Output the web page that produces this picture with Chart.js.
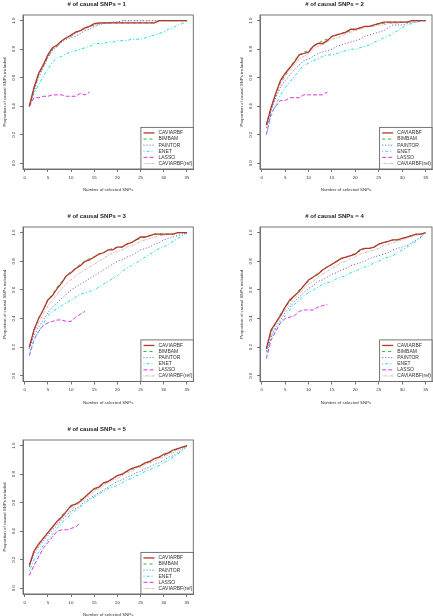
<!DOCTYPE html>
<html><head><meta charset="utf-8">
<script src="https://cdn.jsdelivr.net/npm/chart.js@4.4.0/dist/chart.umd.min.js"></script>
<style>
html,body{margin:0;padding:0;background:#fff;overflow:hidden;width:433px;height:616px;}
.panel{position:absolute;}
.panel canvas{display:block;}
</style></head><body>
<div class="panel" id="w1"><canvas id="c1"></canvas></div>
<div class="panel" id="w2"><canvas id="c2"></canvas></div>
<div class="panel" id="w3"><canvas id="c3"></canvas></div>
<div class="panel" id="w4"><canvas id="c4"></canvas></div>
<div class="panel" id="w5"><canvas id="c5"></canvas></div>
<script>
// ---------- data ----------
const xValues = [1,2,3,4,5,6,7,8,9,10,11,12,13,14,15,16,17,18,19,20,21,22,23,24,25,26,27,28,29,30,31,32,33,34,35];
const xTickValues = [0,5,10,15,20,25,30,35];
const xTickLabels = ['0','5','10','15','20','25','30','35'];
const yTickValues = [0,0.2,0.4,0.6,0.8,1.0];
const yTickLabels = ['0.0','0.2','0.4','0.6','0.8','1.0'];
const methodNames = ['CAVIARBF','BIMBAM','PAINTOR','ENET','LASSO','CAVIARBF(ref)'];
const panelTitles = ['# of causal SNPs = 1','# of causal SNPs = 2','# of causal SNPs = 3','# of causal SNPs = 4','# of causal SNPs = 5'];
const xAxisTitle = 'Number of selected SNPs';
const yAxisTitle = 'Proportion of causal SNPs included';

// panel 1
const caviarbf1 = [0.40,0.53,0.63,0.69,0.76,0.81,0.83,0.86,0.88,0.90,0.92,0.93,0.95,0.96,0.98,0.985,0.985,0.985,0.985,0.985,0.985,0.985,0.985,0.985,0.985,0.985,0.985,0.985,1.0,1.0,1.0,1.0,1.0,1.0,1.0];
const bimbam1   = [0.40,0.52,0.62,0.68,0.75,0.80,0.82,0.86,0.88,0.89,0.92,0.93,0.95,0.96,0.97,0.98,0.985,0.985,0.985,0.985,0.985,0.985,0.985,0.985,0.985,0.985,0.985,0.985,1.0,1.0,1.0,1.0,1.0,1.0,1.0];
const paintor1  = [0.40,0.50,0.60,0.67,0.74,0.79,0.82,0.85,0.87,0.88,0.89,0.91,0.93,0.94,0.96,0.97,0.98,0.98,0.99,0.99,1.0,1.0,1.0,1.0,1.0,1.0,1.0,1.0,1.0,1.0,1.0,1.0,1.0,1.0,1.0];
const enet1     = [0.40,0.49,0.55,0.61,0.66,0.71,0.74,0.75,0.77,0.78,0.79,0.80,0.81,0.82,0.84,0.84,0.84,0.85,0.85,0.86,0.86,0.86,0.87,0.87,0.87,0.88,0.89,0.90,0.91,0.92,0.94,0.95,0.97,0.98,1.0];
const lasso1    = [0.40,0.46,0.46,0.47,0.47,0.48,0.48,0.48,0.47,0.47,0.47,0.49,0.48,0.50];
const ref1      = [0.40,0.52,0.62,0.68,0.75,0.80,0.83,0.86,0.88,0.89,0.91,0.93,0.94,0.96,0.97,0.98,0.98,0.99,0.99,0.99,1.0,1.0,1.0,1.0,1.0,1.0,1.0,1.0,1.0,1.0,1.0,1.0,1.0,1.0,1.0];

// panel 2
const caviarbf2 = [0.27,0.39,0.49,0.58,0.63,0.67,0.71,0.76,0.77,0.78,0.82,0.84,0.84,0.86,0.89,0.90,0.91,0.92,0.94,0.94,0.95,0.96,0.96,0.97,0.98,0.99,0.99,0.99,0.99,0.99,0.99,1.0,1.0,1.0,1.0];
const bimbam2   = [0.27,0.39,0.49,0.57,0.62,0.67,0.72,0.76,0.78,0.79,0.82,0.84,0.86,0.87,0.89,0.90,0.91,0.92,0.93,0.94,0.95,0.96,0.96,0.97,0.98,0.98,0.99,0.99,0.99,0.99,0.99,1.0,1.0,1.0,1.0];
const paintor2  = [0.25,0.37,0.46,0.53,0.58,0.62,0.66,0.69,0.72,0.73,0.75,0.77,0.78,0.79,0.80,0.82,0.83,0.84,0.85,0.86,0.87,0.89,0.90,0.91,0.92,0.93,0.95,0.97,0.97,0.97,0.98,0.99,0.99,1.0,1.0];
const enet2     = [0.20,0.33,0.41,0.48,0.53,0.57,0.61,0.65,0.69,0.70,0.72,0.73,0.75,0.76,0.76,0.77,0.78,0.79,0.80,0.80,0.81,0.82,0.83,0.85,0.86,0.88,0.89,0.91,0.93,0.95,0.97,0.98,0.99,1.0,1.0];
const lasso2    = [0.20,0.35,0.40,0.44,0.44,0.46,0.46,0.46,0.48,0.48,0.48,0.48,0.48,0.50];
const ref2      = [0.25,0.37,0.47,0.55,0.61,0.65,0.69,0.73,0.75,0.77,0.80,0.82,0.83,0.85,0.87,0.88,0.89,0.91,0.92,0.93,0.94,0.95,0.96,0.96,0.97,0.97,0.98,0.98,0.98,0.99,0.99,0.99,1.0,1.0,1.0];

// panel 3
const caviarbf3 = [0.20,0.32,0.40,0.46,0.53,0.56,0.61,0.65,0.70,0.72,0.75,0.77,0.80,0.81,0.83,0.85,0.86,0.88,0.88,0.90,0.90,0.92,0.93,0.95,0.97,0.97,0.98,0.99,0.99,0.99,0.99,0.99,1.0,1.0,1.0];
const bimbam3   = [0.20,0.32,0.40,0.46,0.53,0.57,0.62,0.66,0.70,0.73,0.75,0.78,0.80,0.82,0.83,0.85,0.86,0.88,0.89,0.90,0.90,0.92,0.93,0.95,0.96,0.97,0.98,0.99,0.99,0.99,0.99,0.99,1.0,1.0,1.0];
const paintor3  = [0.19,0.28,0.34,0.39,0.44,0.48,0.51,0.54,0.57,0.60,0.62,0.64,0.66,0.68,0.70,0.72,0.74,0.76,0.78,0.80,0.81,0.83,0.84,0.86,0.88,0.89,0.90,0.92,0.93,0.95,0.96,0.97,0.98,0.99,1.0];
const enet3     = [0.15,0.25,0.31,0.36,0.42,0.45,0.47,0.49,0.51,0.53,0.55,0.57,0.58,0.59,0.60,0.62,0.64,0.66,0.68,0.70,0.73,0.75,0.77,0.79,0.81,0.83,0.85,0.87,0.89,0.90,0.92,0.94,0.96,0.98,1.0];
const lasso3    = [0.14,0.25,0.31,0.35,0.37,0.38,0.39,0.39,0.38,0.38,0.41,0.43,0.45];
const ref3      = [0.19,0.30,0.37,0.43,0.49,0.53,0.57,0.61,0.64,0.67,0.70,0.72,0.74,0.76,0.78,0.80,0.82,0.84,0.86,0.87,0.88,0.90,0.91,0.92,0.94,0.95,0.96,0.97,0.98,0.98,0.99,0.99,1.0,1.0,1.0];

// panel 4
const caviarbf4 = [0.19,0.32,0.37,0.42,0.48,0.53,0.56,0.59,0.63,0.67,0.69,0.71,0.74,0.76,0.78,0.80,0.82,0.83,0.84,0.85,0.88,0.89,0.89,0.90,0.92,0.93,0.94,0.95,0.95,0.96,0.97,0.98,0.99,0.99,1.0];
const bimbam4   = [0.19,0.31,0.37,0.43,0.48,0.52,0.56,0.60,0.63,0.66,0.69,0.72,0.74,0.76,0.78,0.80,0.82,0.83,0.84,0.86,0.87,0.89,0.89,0.90,0.92,0.93,0.94,0.95,0.95,0.96,0.97,0.98,0.99,0.99,1.0];
const paintor4  = [0.17,0.28,0.34,0.39,0.44,0.48,0.52,0.55,0.58,0.61,0.63,0.66,0.67,0.69,0.71,0.72,0.74,0.75,0.77,0.78,0.79,0.80,0.82,0.83,0.84,0.85,0.86,0.88,0.89,0.90,0.91,0.93,0.95,0.97,1.0];
const enet4     = [0.14,0.27,0.33,0.37,0.42,0.46,0.50,0.53,0.56,0.58,0.60,0.62,0.64,0.65,0.66,0.68,0.69,0.70,0.72,0.73,0.75,0.76,0.77,0.79,0.80,0.82,0.83,0.84,0.86,0.88,0.90,0.92,0.94,0.97,1.0];
const lasso4    = [0.12,0.25,0.31,0.37,0.40,0.41,0.42,0.45,0.46,0.46,0.46,0.48,0.49,0.50];
const ref4      = [0.17,0.30,0.36,0.41,0.46,0.50,0.54,0.57,0.61,0.64,0.66,0.69,0.71,0.73,0.75,0.77,0.79,0.80,0.82,0.83,0.85,0.86,0.87,0.88,0.89,0.91,0.92,0.93,0.94,0.95,0.96,0.97,0.98,0.99,1.0];

// panel 5
const caviarbf5 = [0.16,0.26,0.31,0.35,0.39,0.43,0.47,0.50,0.54,0.58,0.59,0.61,0.64,0.67,0.70,0.71,0.74,0.75,0.77,0.79,0.80,0.82,0.84,0.85,0.86,0.88,0.89,0.91,0.92,0.94,0.95,0.97,0.98,0.99,1.0];
const bimbam5   = [0.16,0.26,0.31,0.35,0.39,0.43,0.47,0.51,0.54,0.57,0.59,0.62,0.64,0.67,0.69,0.71,0.73,0.75,0.77,0.79,0.80,0.82,0.83,0.85,0.86,0.88,0.89,0.91,0.92,0.93,0.95,0.96,0.98,0.99,1.0];
const paintor5  = [0.15,0.24,0.29,0.33,0.37,0.41,0.44,0.48,0.51,0.54,0.56,0.58,0.61,0.63,0.65,0.67,0.69,0.71,0.73,0.75,0.76,0.78,0.79,0.81,0.82,0.84,0.85,0.87,0.88,0.90,0.92,0.93,0.95,0.97,1.0];
const enet5     = [0.12,0.20,0.25,0.30,0.34,0.38,0.42,0.46,0.49,0.52,0.55,0.57,0.60,0.62,0.64,0.66,0.68,0.70,0.71,0.72,0.74,0.76,0.77,0.79,0.80,0.82,0.83,0.85,0.86,0.88,0.90,0.92,0.94,0.97,1.0];
const lasso5    = [0.09,0.16,0.22,0.28,0.32,0.36,0.40,0.41,0.41,0.42,0.43,0.46];
const ref5      = [0.15,0.25,0.30,0.34,0.38,0.42,0.45,0.49,0.52,0.55,0.58,0.60,0.63,0.65,0.68,0.70,0.72,0.74,0.76,0.77,0.79,0.81,0.82,0.84,0.85,0.87,0.88,0.89,0.91,0.92,0.94,0.95,0.97,0.98,1.0];

const panelSeries = [
  [caviarbf1,bimbam1,paintor1,enet1,lasso1,ref1],
  [caviarbf2,bimbam2,paintor2,enet2,lasso2,ref2],
  [caviarbf3,bimbam3,paintor3,enet3,lasso3,ref3],
  [caviarbf4,bimbam4,paintor4,enet4,lasso4,ref4],
  [caviarbf5,bimbam5,paintor5,enet5,lasso5,ref5]
];

// ---------- styles ----------
const FONT = '"Liberation Sans", Arial, Helvetica, sans-serif';
const seriesStyles = [
  {color:'#B8342B', dash:[], width:1.3},
  {color:'#22BB22', dash:[3,3], width:1},
  {color:'#5555DD', dash:[1,2], width:1},
  {color:'#22DDDD', dash:[1,2,3,2], width:1},
  {color:'#DD33DD', dash:[4,2], width:1},
  {color:'#D8B8B8', dash:[1,1,3,1], width:1}
];
// plot rectangles in page pixels: left, top, right, bottom
const panelBoxes = [
  {L:23, T:15, R:193.3, B:169},
  {L:260, T:15, R:432, B:169},
  {L:23, T:227, R:193.3, B:381.5},
  {L:260, T:227, R:432, B:381.5},
  {L:23, T:439.5, R:193.3, B:593.5}
];
const LEFT_M = 23, TOP_M = 15, BOTTOM_M = 26, RIGHT_M = 23;
const AXIS_COL = '#666', TEXT_COL = '#333';

const framePlugin = {
  id: 'rframe',
  afterDatasetsDraw(chart) {
    const {ctx, chartArea: a} = chart;
    ctx.save();
    ctx.strokeStyle = AXIS_COL; ctx.lineWidth = 0.9; ctx.setLineDash([]);
    ctx.strokeRect(a.left, a.top, a.right - a.left, a.bottom - a.top);
    // legend (bottom right, boxed, like R's legend("bottomright"))
    ctx.font = '5px ' + FONT;
    const ds = chart.data.datasets;
    const tw = Math.max(...ds.map(d => ctx.measureText(d.label).width));
    const rowH = 6.1, padL = 2.6, sampleLen = 11, gap = 4, padR = 1, padV = 2.5;
    const w = padL + sampleLen + gap + tw + padR;
    const h = padV * 2 + rowH * ds.length;
    const x0 = a.right - w, y0 = a.bottom - h;
    ctx.fillStyle = '#fff';
    ctx.fillRect(x0, y0, w, h);
    ctx.strokeRect(x0, y0, w, h);
    ds.forEach((d, i) => {
      const cy = y0 + padV + rowH * (i + 0.5);
      ctx.beginPath();
      ctx.setLineDash(d.borderDash || []);
      ctx.strokeStyle = d.borderColor; ctx.lineWidth = d.borderWidth;
      ctx.moveTo(x0 + padL, cy); ctx.lineTo(x0 + padL + sampleLen, cy); ctx.stroke();
      ctx.setLineDash([]);
      ctx.fillStyle = TEXT_COL; ctx.textBaseline = 'middle'; ctx.textAlign = 'left';
      ctx.fillText(d.label, x0 + padL + sampleLen + gap, cy);
    });
    ctx.restore();
  }
};

function makePanel(idx) {
  const b = panelBoxes[idx];
  const left = b.L - LEFT_M, top = b.T - TOP_M;
  const width = Math.round(b.R - b.L + LEFT_M + RIGHT_M);
  const height = Math.round(b.B - b.T + TOP_M + BOTTOM_M);
  const padRight = width - LEFT_M - (b.R - b.L);
  const xAxisH = height - TOP_M - (b.B - b.T);
  const wrap = document.getElementById('w' + (idx + 1));
  Object.assign(wrap.style, {left: left + 'px', top: top + 'px', width: width + 'px', height: height + 'px'});
  const datasets = methodNames.map((name, s) => {
    const vals = panelSeries[idx][s];
    const st = seriesStyles[s];
    return {
      label: name,
      data: vals.map((v, i) => ({x: xValues[i], y: v})),
      borderColor: st.color, borderDash: st.dash, borderWidth: st.width,
      pointRadius: 0, fill: false, tension: 0
    };
  });
  new Chart(document.getElementById('c' + (idx + 1)), {
    type: 'line',
    data: {datasets},
    plugins: [framePlugin],
    options: {
      responsive: true, maintainAspectRatio: false, animation: false,
      devicePixelRatio: 1,
      layout: {padding: {left: 0, top: 0, right: padRight, bottom: 0}},
      plugins: {
        legend: {display: false},
        tooltip: {enabled: false},
        title: {display: true, text: panelTitles[idx], color: '#222',
                font: {family: FONT, size: 6, weight: 'bold', lineHeight: 1.2},
                padding: {top: 0.4, bottom: 7.4}}
      },
      scales: {
        x: {
          type: 'linear', min: -0.36, max: 36.36,
          afterBuildTicks: s => { s.ticks = xTickValues.map(v => ({value: v})); },
          afterFit: s => { s.height = xAxisH; },
          ticks: {autoSkip: false, minRotation: 0, maxRotation: 0, padding: 3, color: TEXT_COL,
                  font: {family: FONT, size: 4.4},
                  callback: (v, i) => xTickLabels[i]},
          grid: {drawOnChartArea: false, drawTicks: true, tickLength: 3, color: AXIS_COL, lineWidth: 0.9},
          border: {display: true, color: AXIS_COL, width: 0.9},
          title: {display: true, text: xAxisTitle, color: TEXT_COL, font: {family: FONT, size: 4.4},
                  padding: {top: 0, bottom: 2.4}}
        },
        y: {
          type: 'linear', min: -0.04, max: 1.04,
          afterBuildTicks: s => { s.ticks = yTickValues.map(v => ({value: v})); },
          afterFit: s => { s.width = LEFT_M; },
          ticks: {minRotation: 90, maxRotation: 90, crossAlign: 'center', padding: 3.2, color: TEXT_COL,
                  font: {family: FONT, size: 4.4},
                  callback: (v, i) => yTickLabels[i]},
          grid: {drawOnChartArea: false, drawTicks: true, tickLength: 3, color: AXIS_COL, lineWidth: 0.9},
          border: {display: true, color: AXIS_COL, width: 0.9},
          title: {display: true, text: yAxisTitle, color: TEXT_COL, font: {family: FONT, size: 4.4},
                  padding: {top: 2.4, bottom: 0}}
        }
      }
    }
  });
}
for (let i = 0; i < 5; i++) makePanel(i);
</script>
</body></html>
